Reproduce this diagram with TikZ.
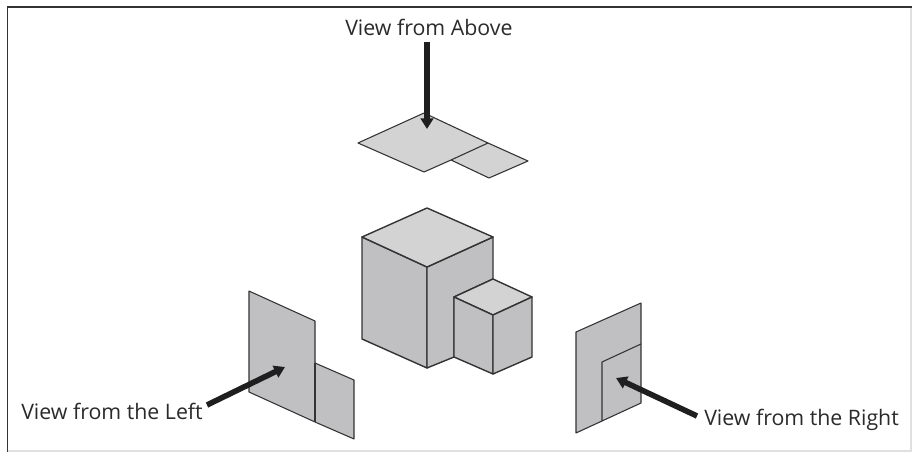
\documentclass[tikz,border=0pt]{standalone}
\usepackage{fontspec}
\setmainfont{Open Sans}
\usetikzlibrary{arrows.meta}
\definecolor{topc}{HTML}{D3D3D4}
\definecolor{sidec}{HTML}{C0C0C2}
\definecolor{edge}{HTML}{333333}
\definecolor{ink}{HTML}{2A2A2A}
\tikzset{
  x=0.75pt,y=-0.75pt,
  face/.style={draw=edge,line width=1.05pt,line join=round},
  thinface/.style={draw=edge,line width=0.8pt,line join=round},
  label/.style={font=\fontsize{16pt}{19pt}\selectfont,text=ink,inner sep=0pt,anchor=base west},
  pointer/.style={draw=black!88,line width=4.2pt,-{Triangle[length=8pt,width=9.5pt]}},
}
\begin{document}
\begin{tikzpicture}
\useasboundingbox (0,0) rectangle (912,452);
% frame
\draw[line width=1.3pt,black!80] (7.5,452) -- (7.5,7) -- (912,7);
\draw[line width=0.8pt,black!12] (7.5,451) -- (912,451);
\draw[line width=0.8pt,black!12] (911,8) -- (911,451);
% top view
\filldraw[thinface,fill=topc] (424,113) -- (488,143) -- (528,161) -- (489,178) -- (451,160) -- (424,172) -- (358,143) -- cycle;
\draw[thinface] (488,143) -- (451,160);
% cube
\filldraw[face,fill=sidec] (362,237) -- (427,267) -- (427,368) -- (362,339) -- cycle;
\filldraw[face,fill=sidec] (427,267) -- (493,237) -- (493,279) -- (454,297) -- (454,357) -- (427,368) -- cycle;
\filldraw[face,fill=topc] (427,208) -- (493,237) -- (427,267) -- (362,237) -- cycle;
\filldraw[face,fill=topc] (493,279) -- (532,297) -- (493,315) -- (454,297) -- cycle;
\filldraw[face,fill=sidec] (454,297) -- (493,315) -- (493,374) -- (454,357) -- cycle;
\filldraw[face,fill=sidec] (493,315) -- (532,297) -- (532,357) -- (493,374) -- cycle;
% left view
\filldraw[thinface,fill=sidec] (249,291) -- (315,321) -- (315,363) -- (354,380) -- (354,439) -- (315,422) -- (249,392) -- cycle;
\draw[thinface] (315,363) -- (315,422);
% right view
\filldraw[thinface,fill=sidec] (641,303) -- (641,403) -- (576,433) -- (576,332) -- cycle;
\draw[thinface] (641,344) -- (602,362) -- (602,421);
% labels
\node[label] (above) at (345,36) {View from Above};
\node[label] (left) at (21,419) {View from the Left};
\node[label] (right) at (704,425) {View from the Right};
% arrows
\coordinate (aboveStart) at (427,42);
\coordinate (aboveTip) at (427,129);
\coordinate (leftStart) at (207,405);
\coordinate (leftTip) at (285,367);
\coordinate (rightStart) at (697,416);
\coordinate (rightTip) at (616,378);
\draw[pointer] (aboveStart) -- (aboveTip);
\draw[pointer] (leftStart) -- (leftTip);
\draw[pointer] (rightStart) -- (rightTip);
\end{tikzpicture}
\end{document}
